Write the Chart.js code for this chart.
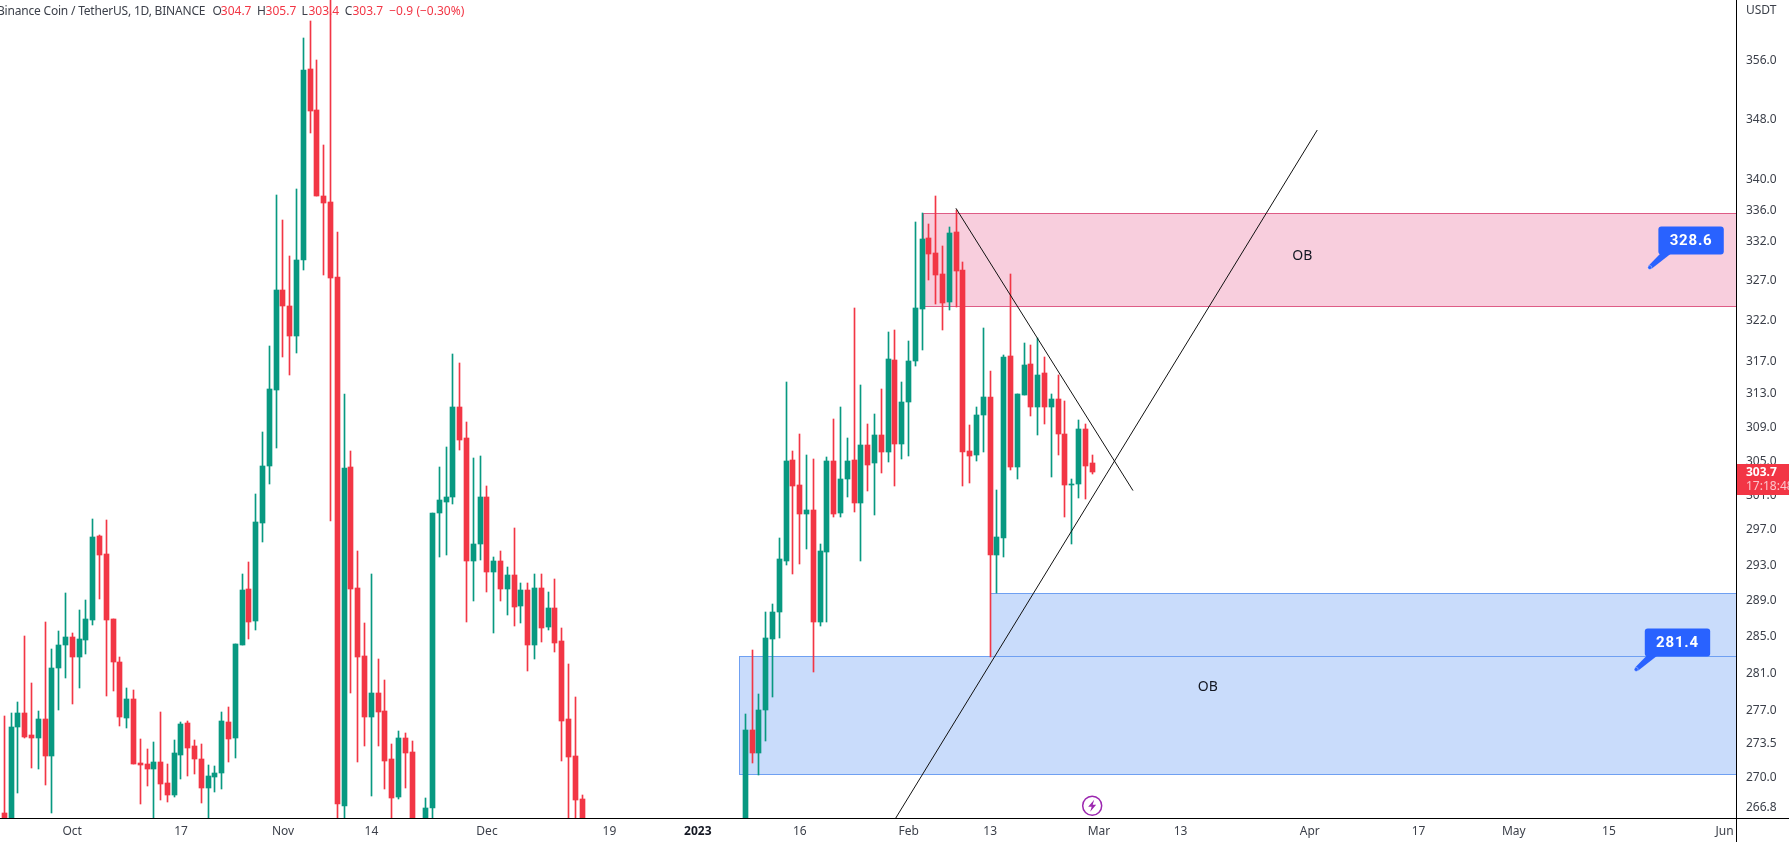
<!DOCTYPE html>
<html>
<head>
<meta charset="utf-8">
<title>Binance Coin / TetherUS</title>
<script src="https://cdn.jsdelivr.net/npm/chart.js@4"></script>
<style>
  html, body { margin: 0; padding: 0; background: #fff; overflow: hidden; }
  canvas { display: block; }
</style>
</head>
<body>
<canvas id="chart" width="1789" height="842"></canvas>
<script>
// daily candles, index 0 = 21 Sep 2022. null = candle sits below the visible range
const opens = [
  266.2,264,275.2,276.7,274.4,274.1,276.1,272.2,281.5,284.1,
  284.9,282.8,284.6,286.8,296.3,294.2,286.9,282.2,276.2,278.2,
  271.4,271.3,270.8,271.5,269.3,268.1,272.3,275.6,273.2,271.8,
  268.8,270.0,270.4,275.8,274.0,284.1,290.3,286.7,297.8,304.4,
  313.4,325.8,323.7,320.0,329.5,354.8,349.2,337.8,337.0,327.4,
  267.0,304.2,290.4,282.9,276.3,278.9,276.9,271.8,267.9,274.0,
  272.6,null,262.0,266.7,298.9,300.2,300.7,311.4,307.7,293.4,
  295.3,300.7,292.2,293.4,290.3,291.8,288.4,290.2,284.1,290.4,
  286.0,288.2,284.5,276.1,272.2,267.7,
  null,null,null,null,null,null,null,null,null,null,null,null,
  null,null,null,null,null,null,null,null,null,null,null,
  263.0,274.95,272.5,277.0,284.7,287.7,293.4,305.1,302.1,298.8,299.3,
  286.6,294.4,305.0,298.9,302.9,305.1,300.1,306.8,304.7,308.0,
  306.0,317.1,307.0,312.0,317.0,323.4,332.4,330.5,327.8,324.2,
  333.1,328.3,306.1,305.7,310.4,312.6,294.1,296.0,317.6,304.2,
  312.8,316.6,311.4,315.5,311.4,312.4,308.2,302.1,302.3,308.7,304.7
];
const closes = [
  264,275.2,276.7,274.2,274.1,276.1,272.2,281.6,284.1,284.9,
  282.8,284.7,286.9,296.2,294.1,286.8,282.2,276.3,278.2,271.3,
  271.2,270.8,271.5,269.2,268.1,272.5,275.5,273.0,271.8,268.8,
  270.1,270.4,275.9,273.9,284.2,290.2,286.6,297.9,304.4,313.5,
  325.8,323.7,320.0,329.5,354.6,349.0,337.8,336.9,327.3,267.2,
  304.1,290.3,282.7,276.3,278.9,276.8,271.6,267.8,274.0,272.5,
  263.0,null,266.7,298.9,300.4,300.8,311.4,307.5,293.4,295.4,
  300.7,292.2,293.4,290.3,291.8,288.3,290.2,284.1,290.4,285.9,
  288.2,284.3,275.9,272.0,267.6,264.0,
  null,null,null,null,null,null,null,null,null,null,null,null,
  null,null,null,null,null,null,null,null,null,null,null,
  274.95,272.5,277.0,284.8,287.7,293.6,305.0,302.0,298.8,299.3,286.6,
  294.5,305.0,298.8,302.9,305.0,300.1,306.8,304.5,308.0,306.0,
  317.2,307.0,312.0,317.0,323.5,332.2,330.3,327.6,324.1,333.0,
  328.2,306.0,305.6,310.4,312.6,294.1,296.1,317.5,304.2,313.0,
  316.5,311.4,315.3,311.4,312.4,308.1,302.1,302.3,308.7,304.4,303.7
];
const highs = [
  276.4,276.7,277.9,285.0,279.9,276.9,286.6,283.6,285.6,289.8,
  285.4,287.9,289.0,298.2,296.4,298.1,286.9,282.7,279.4,279.2,
  273.9,272.9,273.6,276.8,271.3,273.8,275.8,275.9,273.8,273.4,
  271.2,271.1,276.8,277.3,284.2,292.0,293.3,301.1,308.4,318.8,
  337.9,334.7,330.0,338.7,359.0,361.4,356.0,344.5,368.0,333.1,
  312.9,306.1,294.5,286.5,292.0,282.5,280.2,273.4,274.8,274.6,
  273.7,null,267.8,298.9,304.2,306.6,317.8,316.7,309.6,305.3,
  305.5,302.0,293.9,294.5,292.7,297.2,290.9,290.9,292.0,292.0,
  289.9,291.4,285.9,282.0,278.4,268.1,
  null,null,null,null,null,null,null,null,null,null,null,null,
  null,null,null,null,null,null,null,null,null,null,null,
  276.55,283.5,278.7,287.7,288.6,296.0,314.4,306.1,308.1,305.7,305.2,
  295.4,305.4,309.9,311.4,307.7,323.5,314.0,309.4,310.5,313.5,
  320.5,320.8,314.4,319.4,334.4,335.6,334.2,337.8,331.4,333.8,
  336.0,329.3,309.2,311.4,321.0,315.7,301.6,317.7,327.8,313.0,
  319.2,318.9,319.8,317.5,313.0,315.2,312.1,302.9,309.8,309.3,305.7
];
const lows = [
  263,263,268.3,274.1,270.9,270.8,269.1,266.2,277.0,280.5,
  277.7,279.4,283.1,286.3,289.2,278.5,279.1,275.3,275.1,271.3,
  267.2,269.0,264,267.6,267.4,267.9,269.8,270.1,270.3,267.3,
  264,268.4,268.7,271.5,271.9,284.1,284.7,285.7,295.6,302.3,
  306.5,317.4,315.2,318.0,328.3,346.1,337.8,327.6,298.0,264,
  264,278.9,271.5,273.2,268.0,273.2,268.7,264,267.7,268.8,
  262,null,261,264,293.9,294.1,300.0,306.3,286.6,288.9,
  293.5,289.9,285.4,288.9,287.4,286.1,286.5,281.2,282.5,284.4,
  285.7,283.3,271.6,264,264,263,
  null,null,null,null,null,null,null,null,null,null,null,null,
  null,null,null,null,null,null,null,null,null,null,null,
  262,271.4,270.2,273.7,278.4,284.8,293.0,291.9,293.1,294.8,281.1,
  286.1,286.6,298.4,298.4,300.7,299.0,293.4,301.5,298.7,303.5,
  304.8,302.0,305.2,305.5,316.4,318.3,327.0,324.0,320.8,323.3,
  323.6,302.0,302.4,305.0,306.0,282.8,289.8,293.9,303.9,302.8,
  312.8,310.3,308.0,309.3,303.1,305.7,298.5,295.4,300.6,300.5,303.4
];

const xTickIdx = [10,26,41,54,71,89,102,117,133,145,161,173,192,208,222,236,253];
const xTickLabels = ["Oct","17","Nov","14","Dec","19","2023","16","Feb","13","Mar","13","Apr","17","May","15","Jun"];
const yTicks = [356,348,340,336,332,327,322,317,313,309,305,301,297,293,289,285,281,277,273.5,270,266.8];

// drawn trend lines: [index, price]
const fallLine = [[139.96,336.2],[166,301.5]];
const riseLine = [[131.1,265.7],[193.1,346.5]];

// order blocks: start index, top, bottom
const pinkZone = [135.05,335.6,323.7];
const blueZone = [108.1,282.9,270.3];
const blueZoneTop = [145,289.8,282.9];
const obLabels = [[190.9,330.0],[177,279.5]];
const callouts = [[242,328.6],[240,281.4]];

const lastPrice = 303.7;
const lastCountdown = "17:18:48";
const symbolText = "Binance Coin / TetherUS, 1D, BINANCE";
const ohlcText = [["O",212.4,"#3C404A"],["304.7",220.8],["H",257,"#3C404A"],["305.7",265.6],["L",301.6,"#3C404A"],["303.4",308.5],["C",344.8,"#3C404A"],["303.7",352.5],["\u22120.9",389.2],["(\u22120.30%)",416.4]];

const UP = "#089981", DOWN = "#F23645";
const FONT = "'Noto Sans', sans-serif";

const days = opens.map((o,i) => i).filter(i => opens[i] !== null);
const candleColor = ctx => {
  const i = ctx.raw ? ctx.raw.x : 0;
  return closes[i] >= opens[i] ? UP : DOWN;
};

// keeps the 1px wicks sharp, like the original
const snapBars = {
  id: "snapBars",
  afterDatasetsUpdate(chart) {
    chart.data.datasets.forEach((ds, n) => {
      if (ds.type !== "bar") return;
      chart.getDatasetMeta(n).data.forEach(el => {
        el.x = Math.floor(el.x) + 0.5;
        const top = Math.round(Math.min(el.y, el.base));
        let bot = Math.round(Math.max(el.y, el.base));
        if (bot <= top) bot = top + 1;
        el.y = top; el.base = bot;
      });
    });
  }
};

const drawings = {
  id: "drawings",
  beforeDatasetsDraw(chart) {
    const {ctx, scales: {x, y}, chartArea: a} = chart;
    const zone = (z, fill, line) => {
      const l = x.getPixelForValue(z[0]), t = Math.round(y.getPixelForValue(z[1])) + 0.5, b = Math.round(y.getPixelForValue(z[2])) + 0.5;
      ctx.fillStyle = fill;
      ctx.fillRect(l, t, a.right - l, b - t);
      ctx.strokeStyle = line;
      ctx.lineWidth = 1;
      ctx.strokeRect(Math.round(l) + 0.5, t, a.right - l + 5, b - t);
    };
    ctx.save();
    ctx.beginPath(); ctx.rect(a.left, a.top, a.right - a.left, a.bottom - a.top); ctx.clip();
    zone(pinkZone, "#F8CEDD", "#DE5C86");
    zone(blueZoneTop, "#C9DCFB", "#6FA0F2");
    zone(blueZone, "#C9DCFB", "#6FA0F2");
    ctx.restore();

    // header
    ctx.save();
    ctx.textBaseline = "middle";
    ctx.font = "12px " + FONT;
    ctx.fillStyle = "#3C404A";
    ctx.letterSpacing = "-0.2px";
    ctx.fillText(symbolText, -3, 12);
    ctx.letterSpacing = "0px";
    ohlcText.forEach(t => {
      ctx.fillStyle = t[2] || DOWN;
      ctx.fillText(t[0], t[1], 12);
    });
    ctx.restore();
  },
  afterDraw(chart) {
    const {ctx, scales: {x, y}, chartArea: a, width, height} = chart;
    ctx.save();

    ctx.font = "14px " + FONT;
    ctx.fillStyle = "#131722";
    ctx.textAlign = "center";
    ctx.textBaseline = "middle";
    obLabels.forEach(p => ctx.fillText("OB", x.getPixelForValue(p[0]), y.getPixelForValue(p[1])));

    // price callouts
    callouts.forEach(c => {
      const px = x.getPixelForValue(c[0]), py = y.getPixelForValue(c[1]);
      const l = px + 8.6, t = py - 41, w = 65.4, h = 28;
      ctx.fillStyle = "#2962FF";
      ctx.beginPath();
      ctx.moveTo(px - 1.5, py - 1.5);
      ctx.lineTo(l + 3, t + h - 2);
      ctx.lineTo(l + 14, t + h - 2);
      ctx.lineTo(px + 1.5, py + 1.5);
      ctx.closePath();
      ctx.fill();
      ctx.beginPath();
      ctx.roundRect(l, t, w, h, 3);
      ctx.fill();
      ctx.fillStyle = "#fff";
      ctx.font = "bold 15px Roboto, sans-serif";
      ctx.letterSpacing = "0.8px";
      ctx.fillText(c[1].toFixed(1), l + w / 2, t + h / 2 + 0.5);
      ctx.letterSpacing = "0px";
      ctx.beginPath();
      ctx.arc(px, py, 2, 0, Math.PI * 2);
      ctx.fillStyle = "#2962FF";
      ctx.fill();
      ctx.strokeStyle = "rgba(255,255,255,.7)";
      ctx.lineWidth = 0.5;
      ctx.stroke();
    });

    // lightning marker under the last candle
    const mx = x.getPixelForValue(160), my = 805.7;
    ctx.strokeStyle = "#9C27B0";
    ctx.lineWidth = 1.5;
    ctx.beginPath(); ctx.arc(mx, my, 9.5, 0, Math.PI * 2); ctx.stroke();
    ctx.fillStyle = "#9C27B0";
    ctx.beginPath();
    ctx.moveTo(mx + 2, my - 6); ctx.lineTo(mx - 4, my + 1); ctx.lineTo(mx - 0.5, my + 1);
    ctx.lineTo(mx - 2, my + 6); ctx.lineTo(mx + 4, my - 1); ctx.lineTo(mx + 0.5, my - 1);
    ctx.closePath(); ctx.fill();

    // axis rules
    ctx.fillStyle = "#000";
    ctx.fillRect(0, a.bottom, width, 1);
    ctx.fillRect(a.right, 0, 1, height);

    // last price tag
    const tagTop = 464, tagH = 31;
    ctx.fillStyle = DOWN;
    ctx.fillRect(a.right + 1, tagTop, width - a.right, tagH);
    ctx.textAlign = "left";
    ctx.font = "bold 12px " + FONT;
    ctx.fillStyle = "#fff";
    ctx.fillText(lastPrice.toFixed(1), 1746, tagTop + 9);
    ctx.font = "12px " + FONT;
    ctx.fillStyle = "#FBC5CB";
    ctx.fillText(lastCountdown, 1746, tagTop + 23);

    ctx.font = "12px " + FONT;
    ctx.fillStyle = "#3C404A";
    ctx.fillText("USDT", 1746, 11);
    ctx.restore();
  }
};

new Chart(document.getElementById("chart"), {
  data: {
    datasets: [
      {
        type: "bar", label: "wick", order: 3, grouped: false, barThickness: 1,
        data: days.map(i => ({x: i, y: [lows[i], highs[i]]})),
        backgroundColor: candleColor
      },
      {
        type: "bar", label: "body", order: 2, grouped: false, barThickness: 5,
        data: days.map(i => ({x: i, y: [opens[i], closes[i]]})),
        backgroundColor: candleColor
      },
      {
        type: "line", label: "fall", order: 1, borderColor: "#111", borderWidth: 1, pointRadius: 0,
        data: fallLine.map(p => ({x: p[0], y: p[1]}))
      },
      {
        type: "line", label: "rise", order: 1, borderColor: "#111", borderWidth: 1, pointRadius: 0,
        data: riseLine.map(p => ({x: p[0], y: p[1]}))
      }
    ]
  },
  options: {
    responsive: false,
    animation: false,
    devicePixelRatio: 1,
    layout: { padding: 0 },
    plugins: { legend: { display: false }, tooltip: { enabled: false } },
    scales: {
      x: {
        type: "linear",
        offset: false,
        bounds: "data",
        min: -0.618,
        max: 254.68,
        grid: { display: false, drawTicks: false },
        border: { display: false },
        afterBuildTicks: s => { s.ticks = xTickIdx.map(v => ({value: v})); },
        afterFit: s => { s.height = 24; s.paddingLeft = 0; s.paddingRight = 0; },
        ticks: {
          autoSkip: false,
          maxRotation: 0,
          padding: 6,
          color: c => xTickLabels[c.index] === "2023" ? "#131722" : "#3C404A",
          font: c => ({family: FONT, size: 12, weight: xTickLabels[c.index] === "2023" ? "bold" : "normal"}),
          callback: (v, i) => xTickLabels[i]
        }
      },
      y: {
        type: "logarithmic",
        position: "right",
        offset: false,
        bounds: "data",
        min: 265.72,
        max: 364.33,
        grid: { display: false, drawTicks: false },
        border: { display: false },
        afterBuildTicks: s => { s.ticks = yTicks.map(v => ({value: v})); },
        afterFit: s => { s.width = 53; s.paddingTop = 0; s.paddingBottom = 0; },
        ticks: {
          autoSkip: false,
          padding: 10,
          labelOffset: 0.5,
          color: "#3C404A",
          font: {family: FONT, size: 12},
          callback: v => Number(v).toFixed(1)
        }
      }
    }
  },
  plugins: [snapBars, drawings]
});
</script>
</body>
</html>
